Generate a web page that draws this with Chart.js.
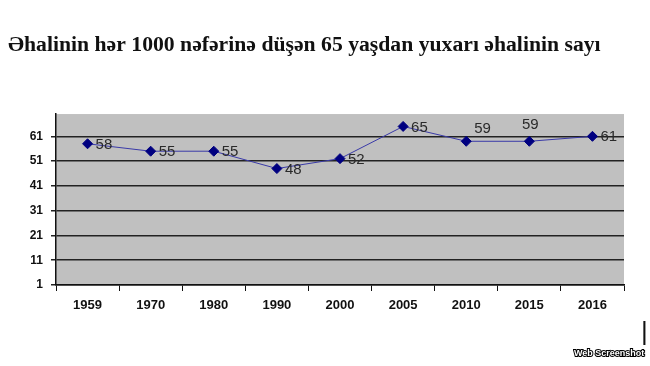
<!DOCTYPE html>
<html>
<head>
<meta charset="utf-8">
<script src="https://cdn.jsdelivr.net/npm/chart.js@4"></script>
<style>
  html, body { margin: 0; padding: 0; background: #fff; }
  #wrap { position: relative; width: 650px; height: 366px; }
  #stamp {
    position: absolute; left: 574px; top: 348px;
    font: bold 9px "Liberation Sans", Arial, sans-serif;
    color: #fff; -webkit-text-stroke: 2px #000; paint-order: stroke fill;
  }
  #bar { position: absolute; left: 641px; top: 316px; font: 26px "Liberation Sans", Arial, sans-serif; color: #111; }
</style>
</head>
<body>
<div id="wrap">
  <canvas id="chart" width="650" height="366"></canvas>
  <div id="bar">|</div>
  <div id="stamp">Web Screenshot</div>
</div>
<script>
const years = ["1959", "1970", "1980", "1990", "2000", "2005", "2010", "2015", "2016"];
const values = [58, 55, 55, 48, 52, 65, 59, 59, 61];
const yTicks = [1, 11, 21, 31, 41, 51, 61];
const labelPlace = ["right", "right", "right", "right", "right", "right", "aboveRight", "above", "right"];

const plotBg = {
  id: "plotBg",
  beforeDraw(chart) {
    const { ctx, chartArea: a } = chart;
    ctx.save();
    ctx.fillStyle = "#c0c0c0";
    ctx.fillRect(a.left, a.top, a.right - a.left, a.bottom - a.top);
    ctx.restore();
  },
};

const valueLabels = {
  id: "valueLabels",
  afterDatasetsDraw(chart) {
    const ctx = chart.ctx;
    const meta = chart.getDatasetMeta(0);
    ctx.save();
    ctx.font = "15px 'Liberation Sans', Arial, sans-serif";
    ctx.fillStyle = "#2a2a2a";
    ctx.textBaseline = "middle";
    meta.data.forEach((pt, i) => {
      const txt = String(values[i]);
      const place = labelPlace[i];
      if (place === "above") {
        ctx.textAlign = "center";
        ctx.fillText(txt, pt.x + 1, pt.y - 16);
      } else if (place === "aboveRight") {
        ctx.textAlign = "left";
        ctx.fillText(txt, pt.x + 8, pt.y - 12);
      } else {
        ctx.textAlign = "left";
        ctx.fillText(txt, pt.x + 8, pt.y + 1);
      }
    });
    ctx.restore();
  },
};

new Chart(document.getElementById("chart"), {
  type: "line",
  data: {
    labels: years,
    datasets: [
      {
        data: values,
        borderColor: "#3a3aa8",
        borderWidth: 1,
        pointStyle: "rectRot",
        pointRadius: 5,
        pointBackgroundColor: "#000080",
        pointBorderColor: "#000080",
        tension: 0,
      },
    ],
  },
  options: {
    responsive: false,
    animation: false,
    layout: { padding: { left: 8, right: 26, top: 0, bottom: 0 } },
    plugins: {
      legend: { display: false },
      tooltip: { enabled: false },
      title: {
        display: true,
        text: "Əhalinin hər 1000 nəfərinə düşən 65 yaşdan yuxarı əhalinin sayı",
        align: "start",
        color: "#111",
        font: { family: "'Liberation Serif', 'Times New Roman', serif", size: 21.7, weight: "bold" },
        padding: { top: 32, bottom: 56 },
      },
    },
    scales: {
      x: {
        offset: true,
        afterFit(scale) { scale.height = 81; },
        border: { color: "#111", width: 1.5 },
        grid: { offset: true, drawOnChartArea: false, drawTicks: true, tickLength: 6, color: "#111" },
        ticks: {
          color: "#111",
          padding: 7,
          font: { family: "'Liberation Sans', Arial, sans-serif", size: 13, weight: "bold" },
        },
      },
      y: {
        min: 1,
        max: 70,
        afterFit(scale) { scale.width = 48; },
        afterBuildTicks(scale) { scale.ticks = yTicks.map((v) => ({ value: v })); },
        border: { color: "#111", width: 1.5 },
        grid: { color: "#222", lineWidth: 1.5, tickLength: 5 },
        ticks: {
          color: "#111",
          padding: 8,
          font: { family: "'Liberation Sans', Arial, sans-serif", size: 12, weight: "bold" },
        },
      },
    },
  },
  plugins: [plotBg, valueLabels],
});
</script>
</body>
</html>
